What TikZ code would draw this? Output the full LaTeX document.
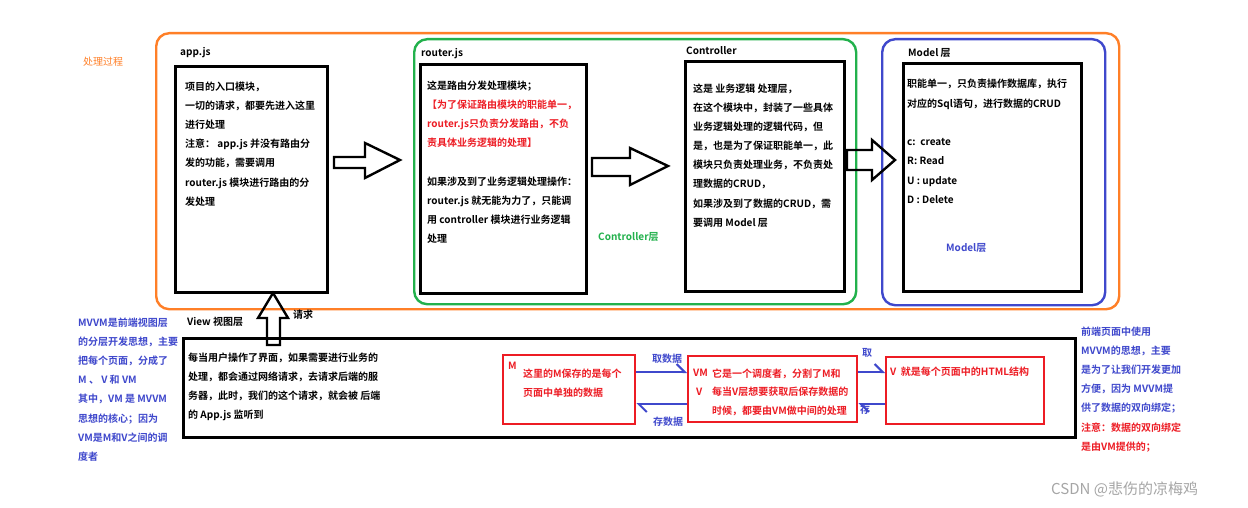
\documentclass[tikz,border=0pt]{standalone}
\usepackage{fontspec}
\setmainfont{Noto Sans CJK SC}[BoldFont={* Bold}]
\usetikzlibrary{arrows.meta,calc}
\definecolor{cOrange}{RGB}{255,127,39}
\definecolor{cGreen}{RGB}{34,177,76}
\definecolor{cBlue}{RGB}{63,72,204}
\definecolor{cRed}{RGB}{237,28,36}
\newcommand{\fl}{\rule{0pt}{10pt}}
\tikzset{
  txt/.style={inner sep=0pt, anchor=base west, align=left,
    font=\fontsize{10pt}{19.2pt}\selectfont\bfseries},
  para/.style={txt, anchor=north west},
  blackbox/.style={draw=black, line width=2.6pt, inner sep=0pt, anchor=north west},
  redbox/.style={draw=cRed, line width=2.4pt, inner sep=0pt, anchor=north west},
  group/.style={line width=2.4pt, rounded corners=13pt, inner sep=0pt, anchor=north west},
  hollow/.style={draw=black, line width=2.4pt, line join=miter},
  link/.style={draw=cBlue, line width=2pt, -{Straight Barb[harpoon,length=8pt,width=16pt,line width=2pt]}},
}
\begin{document}
\begin{tikzpicture}[x=1pt,y=-1pt]
\useasboundingbox (0,0) rectangle (1248,508);
\fill[white] (0,0) rectangle (1248,508);
% group frames
\node[group, draw=cOrange, minimum width=963pt, minimum height=276pt] (proc) at (155,32) {};
\node[group, draw=cGreen, minimum width=442pt, minimum height=265pt] (ctrlgrp) at (413,38) {};
\node[group, draw=cBlue, minimum width=223pt, minimum height=266pt] (modelgrp) at (881,38) {};
% module boxes
\node[blackbox, minimum width=152pt, minimum height=226pt] (app) at (174,65) {};
\node[blackbox, minimum width=166pt, minimum height=229pt] (router) at (419,63) {};
\node[blackbox, minimum width=159pt, minimum height=230pt] (ctrl) at (684,60) {};
\node[blackbox, minimum width=178pt, minimum height=228pt] (model) at (902,62) {};
% labels
\node[txt, text=cOrange, font=\fontsize{10pt}{12pt}\selectfont] (proclbl) at (83,65.8) {处理过程};
\node[txt] (applbl) at (180,55.8) {app.js};
\node[txt] (routerlbl) at (421,56.3) {router.js};
\node[txt] (ctrllbl) at (686,54.3) {Controller};
\node[txt] (modellbl) at (908,56.8) {Model 层};
\node[txt, text=cGreen] (ctrlnote) at (598,240.8) {Controller层};
\node[txt, text=cBlue] (modelnote) at (946,251.8) {Model层};
% texts in boxes
\node[para] (apptxt) at (185,79.8) {\fl 项目的入口模块，\\一切的请求，都要先进入这里\\进行处理\\注意： app.js 并没有路由分\\发的功能，需要调用\\router.js 模块进行路由的分\\发处理};
\node[para] (routertxt) at (427,78.8) {\fl 这是路由分发处理模块；\\\textcolor{cRed}{【为了保证路由模块的职能单一，}\\\textcolor{cRed}{router.js只负责分发路由，不负}\\\textcolor{cRed}{责具体业务逻辑的处理】}\\[19.2pt]如果涉及到了业务逻辑处理操作：\\router.js 就无能为力了，只能调\\用 controller 模块进行业务逻辑\\处理};
\node[para] (ctrltxt) at (693,81.8) {\fl 这是 业务逻辑 处理层，\\在这个模块中，封装了一些具体\\业务逻辑处理的逻辑代码，但\\是，也是为了保证职能单一，此\\模块只负责处理业务，不负责处\\理数据的CRUD，\\如果涉及到了数据的CRUD，需\\要调用 Model 层};
\node[para] (modeltxt) at (907,77.8) {\fl 职能单一，只负责操作数据库，执行\\对应的Sql语句，进行数据的CRUD\\[19.2pt]c:\ \ create\\R: Read\\U : update\\D : Delete};
% hollow arrows
\draw[hollow] (334,157) -- (365,157) -- (365,143) -- (400,160) -- (365,178) -- (365,168) -- (334,168) -- cycle;
\draw[hollow] (592,158) -- (630,158) -- (630,148) -- (668,166) -- (630,185) -- (630,176) -- (592,176) -- cycle;
\draw[hollow] (847,150) -- (872,150) -- (872,140) -- (895,160) -- (872,180) -- (872,170) -- (847,170) -- cycle;
% view layer
\node[blackbox, minimum width=892pt, minimum height=99pt] (view) at (182,337) {};
\draw[hollow] (267,345) -- (267,318) -- (258,318) -- (273,293) -- (288,318) -- (280,318) -- (280,345) -- cycle;
\node[txt] (reqlbl) at (293,318) {请求};
\node[txt] (viewlbl) at (187,325.8) {View 视图层};
\node[para] (viewtxt) at (188,350.8) {\fl 每当用户操作了界面，如果需要进行业务的\\处理，都会通过网络请求，去请求后端的服\\务器，此时，我们的这个请求，就会被 后端\\的 App.js 监听到};
% side notes
\node[para, text=cBlue] (leftnote) at (78,315.8) {\fl MVVM是前端视图层\\的分层开发思想，主要\\把每个页面，分成了\\M 、 V 和 VM\\其中，VM 是 MVVM\\思想的核心；因为\\VM是M和V之间的调\\度者};
\node[para, text=cBlue] (rightnote) at (1081,324.8) {\fl 前端页面中使用\\MVVM的思想，主要\\是为了让我们开发更加\\方便，因为 MVVM提\\供了数据的双向绑定；\\\textcolor{cRed}{注意：数据的双向绑定}\\\textcolor{cRed}{是由VM提供的；}};
% MVVM boxes
\node[redbox, minimum width=132pt, minimum height=69pt] (M) at (502,354) {};
\node[redbox, minimum width=169pt, minimum height=66pt] (VM) at (687,355) {};
\node[redbox, minimum width=158pt, minimum height=67pt] (V) at (885,356) {};
\node[txt, text=cRed] (Mlbl) at (508,369.8) {M};
\node[para, text=cRed] (Mtxt) at (523,366.8) {\fl 这里的M保存的是每个\\页面中单独的数据};
\node[txt, text=cRed] (VMlbl) at (693,376.8) {VM};
\node[txt, text=cRed] (VMv) at (696,395.8) {V};
\node[para, text=cRed, font=\fontsize{10pt}{18.6pt}\selectfont\bfseries] (VMtxt) at (712,366.8) {\fl 它是一个调度者，分割了M和\\每当V层想要获取后保存数据的\\时候，都要由VM做中间的处理};
\node[txt, text=cRed] (Vtxt) at (890,375.8) {V\ \ 就是每个页面中的HTML结构};
% links
\coordinate (ytop) at (0,372);
\coordinate (ybot) at (0,404);
\draw[link] (M.east |- ytop) -- (VM.west |- ytop);
\draw[link] (VM.west |- ybot) -- (M.east |- ybot);
\draw[link] (VM.east |- ytop) -- (V.west |- ytop);
\draw[link] (V.west |- ybot) -- (VM.east |- ybot);
\node[txt, text=cBlue] (get1) at (652,362.8) {取数据};
\node[txt, text=cBlue] (put1) at (653,425.8) {存数据};
\node[txt, text=cBlue] (get2) at (862,356.8) {取};
\node[txt, text=cBlue] (put2) at (860,413.8) {存};
% watermark
\node[txt, text=black!35, font=\fontsize{15pt}{18pt}\selectfont] (wm) at (1051,494) {CSDN @悲伤的凉梅鸡};
\end{tikzpicture}
\end{document}
